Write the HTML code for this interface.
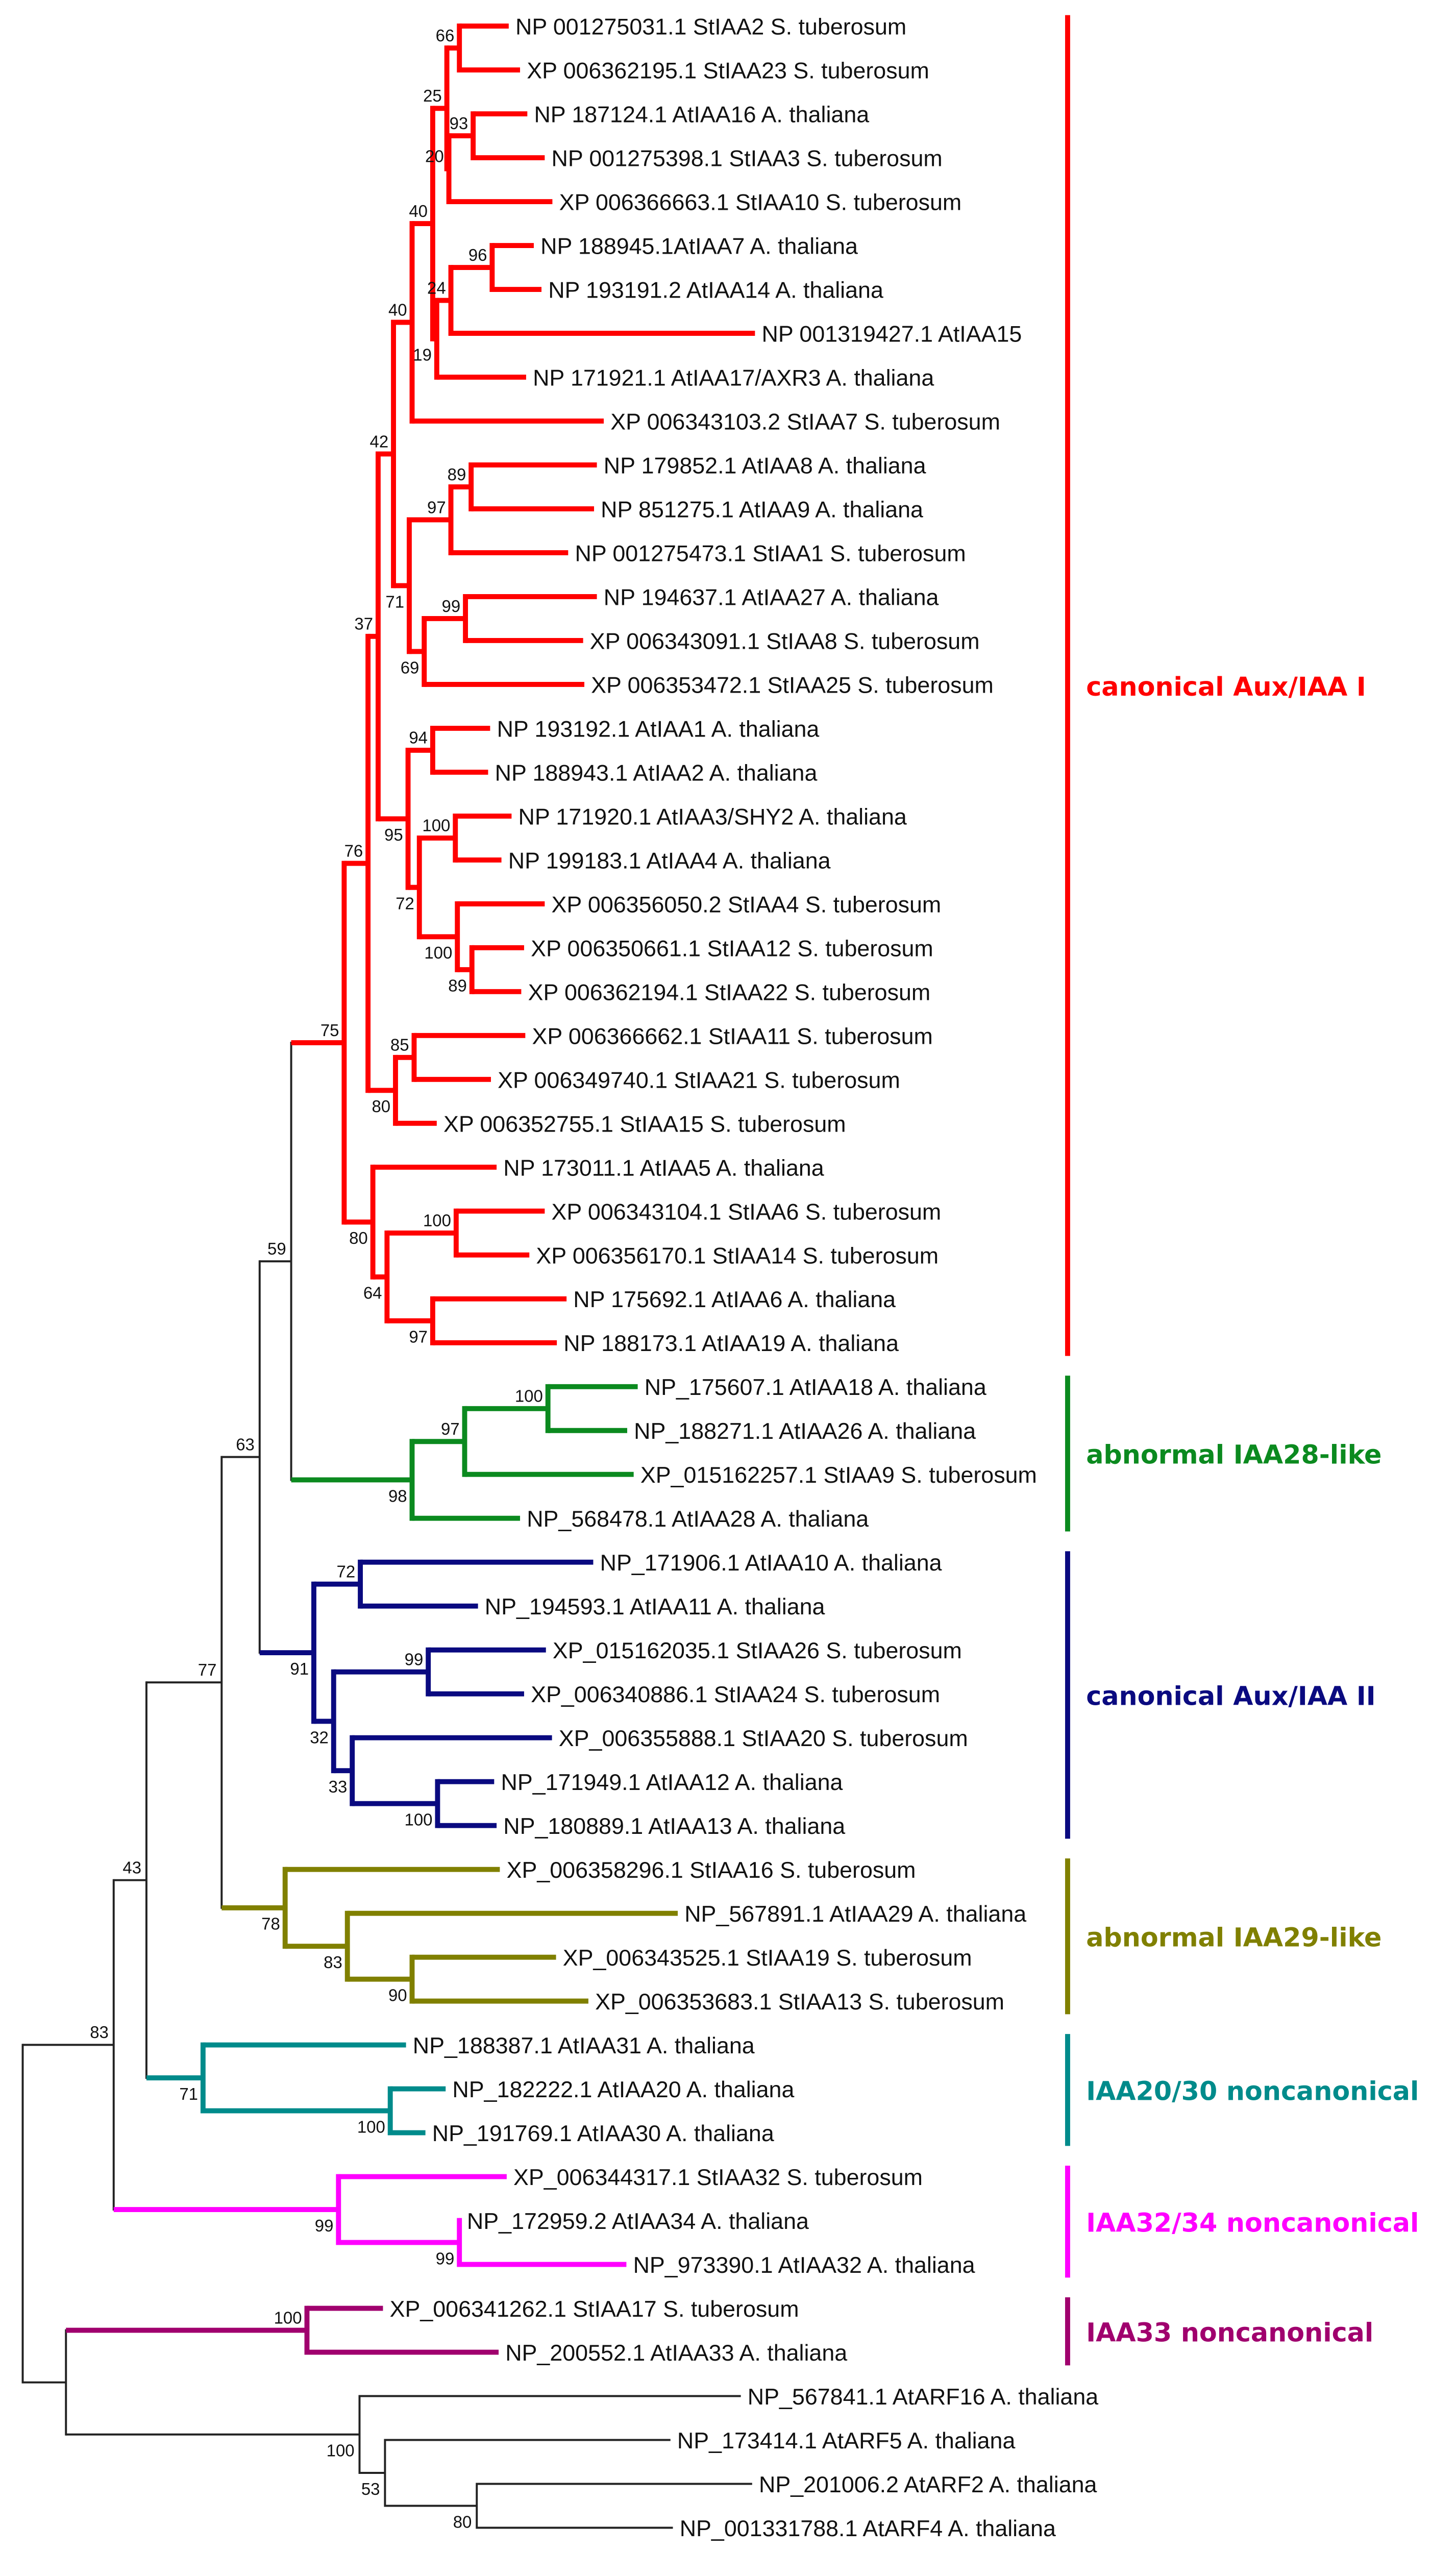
<!DOCTYPE html>
<html><head><meta charset="utf-8">
<style>
html,body{margin:0;padding:0;background:#fff;width:2853px;height:5166px;overflow:hidden;}
svg{display:block;overflow:hidden;}
.leaf{font-family:"Liberation Sans",Arial,sans-serif;font-size:13.6px;fill:#111;}
.boot{font-family:"Liberation Sans",Arial,sans-serif;font-size:10px;fill:#111;}
.grp{font-family:"DejaVu Sans",Verdana,sans-serif;font-size:15.4px;font-weight:bold;}
</style></head>
<body>
<svg id="tree" xmlns="http://www.w3.org/2000/svg" width="2853" height="5166" viewBox="0 0 866 1568" preserveAspectRatio="none">
<rect width="866" height="1568" fill="#fff"/>
<g id="branches"></g>
<g id="boots"></g>
<g id="leaves"></g>
<g id="groups"></g>
<g id="scalebar"></g>
</svg>
<script>
// ---- data ----
const leafNames = [
"NP 001275031.1 StIAA2 S. tuberosum","XP 006362195.1 StIAA23 S. tuberosum","NP 187124.1 AtIAA16 A. thaliana",
"NP 001275398.1 StIAA3 S. tuberosum","XP 006366663.1 StIAA10 S. tuberosum","NP 188945.1AtIAA7 A. thaliana",
"NP 193191.2 AtIAA14 A. thaliana","NP 001319427.1 AtIAA15","NP 171921.1 AtIAA17/AXR3 A. thaliana",
"XP 006343103.2 StIAA7 S. tuberosum","NP 179852.1 AtIAA8 A. thaliana","NP 851275.1 AtIAA9 A. thaliana",
"NP 001275473.1 StIAA1 S. tuberosum","NP 194637.1 AtIAA27 A. thaliana","XP 006343091.1 StIAA8 S. tuberosum",
"XP 006353472.1 StIAA25 S. tuberosum","NP 193192.1 AtIAA1 A. thaliana","NP 188943.1 AtIAA2 A. thaliana",
"NP 171920.1 AtIAA3/SHY2 A. thaliana","NP 199183.1 AtIAA4 A. thaliana","XP 006356050.2 StIAA4 S. tuberosum",
"XP 006350661.1 StIAA12 S. tuberosum","XP 006362194.1 StIAA22 S. tuberosum","XP 006366662.1 StIAA11 S. tuberosum",
"XP 006349740.1 StIAA21 S. tuberosum","XP 006352755.1 StIAA15 S. tuberosum","NP 173011.1 AtIAA5 A. thaliana",
"XP 006343104.1 StIAA6 S. tuberosum","XP 006356170.1 StIAA14 S. tuberosum","NP 175692.1 AtIAA6 A. thaliana",
"NP 188173.1 AtIAA19 A. thaliana",
"NP_175607.1 AtIAA18 A. thaliana","NP_188271.1 AtIAA26 A. thaliana","XP_015162257.1 StIAA9 S. tuberosum","NP_568478.1 AtIAA28 A. thaliana",
"NP_171906.1 AtIAA10 A. thaliana","NP_194593.1 AtIAA11 A. thaliana","XP_015162035.1 StIAA26 S. tuberosum","XP_006340886.1 StIAA24 S. tuberosum",
"XP_006355888.1 StIAA20 S. tuberosum","NP_171949.1 AtIAA12 A. thaliana","NP_180889.1 AtIAA13 A. thaliana",
"XP_006358296.1 StIAA16 S. tuberosum","NP_567891.1 AtIAA29 A. thaliana","XP_006343525.1 StIAA19 S. tuberosum","XP_006353683.1 StIAA13 S. tuberosum",
"NP_188387.1 AtIAA31 A. thaliana","NP_182222.1 AtIAA20 A. thaliana","NP_191769.1 AtIAA30 A. thaliana",
"XP_006344317.1 StIAA32 S. tuberosum","NP_172959.2 AtIAA34 A. thaliana","NP_973390.1 AtIAA32 A. thaliana",
"XP_006341262.1 StIAA17 S. tuberosum","NP_200552.1 AtIAA33 A. thaliana",
"NP_567841.1 AtARF16 A. thaliana","NP_173414.1 AtARF5 A. thaliana","NP_201006.2 AtARF2 A. thaliana","NP_001331788.1 AtARF4 A. thaliana"
];
const leafDepths = [
1.202,1.230,1.248,1.291,1.310,1.264,1.283,1.811,1.245,1.437,
1.420,1.413,1.349,1.420,1.386,1.389,1.156,1.151,1.209,1.184,
1.291,1.240,1.233,1.243,1.158,1.024,1.172,1.291,1.253,1.345,1.321,
1.521,1.495,1.511,1.230,
1.411,1.126,1.294,1.240,1.309,1.166,1.172,
1.180,1.620,1.319,1.399,
0.948,1.046,0.996,
1.197,1.082,1.493,
0.891,1.177,
1.776,1.602,1.804,1.608
];
const cladeNames = ["canonical Aux/IAA I","abnormal IAA28-like","canonical Aux/IAA II","abnormal IAA29-like","IAA20/30 noncanonical","IAA32/34 noncanonical","IAA33 noncanonical"];
const cladeColors = ["#ff0000","#0b8a1f","#0a0a80","#808000","#008b8b","#ff00ff","#a0006e"];
const cladeFirstLeaf = [0,31,35,42,46,49,52];
const cladeLastLeaf = [30,34,41,45,48,51,53];
const scaleValue = 0.2;
const scaleLabel = "0.2";

// ---- scales ----
const X0 = 13.5, PX_PER_UNIT = 240.5;
function xs(d){ return X0 + d*PX_PER_UNIT; }
const Y0 = 15.5, STEP = 26.1;
function ys(i){ return Y0 + STEP*i; }

const K="#222";
const R=cladeColors[0],G=cladeColors[1],B=cladeColors[2],O=cladeColors[3],T=cladeColors[4],M=cladeColors[5],P=cladeColors[6];
function N(d,boot,pos,col,ch){ return {d:d,boot:boot,pos:pos,col:col,ch:ch}; }
function L(){ return {leaf:true}; }

const tree = N(0,null,'',K,[
 N(0.225,83,'a',K,[
  N(0.306,43,'a',K,[
   N(0.492,77,'a',K,[
    N(0.586,63,'a',K,[
     N(0.664,59,'a',K,[
      N(0.795,75,'a',R,[
       N(0.854,76,'a',R,[
        N(0.879,37,'a',R,[
         N(0.917,42,'a',R,[
          N(0.963,40,'a',R,[
           N(1.014,40,'a',R,[
            N(1.049,25,'a',R,[ N(1.080,66,'a',R,[L(),L()]), N(1.054,20,'a',R,[ N(1.114,93,'a',R,[L(),L()]), L() ]) ]),
            N(1.024,19,'b',R,[ N(1.059,24,'a',R,[ N(1.161,96,'a',R,[L(),L()]), L() ]), L() ])
           ]),
           L()
          ]),
          N(0.956,71,'b',R,[
           N(1.059,97,'a',R,[ N(1.109,89,'a',R,[L(),L()]), L() ]),
           N(0.993,69,'b',R,[ N(1.095,99,'a',R,[L(),L()]), L() ])
          ])
         ]),
         N(0.953,95,'b',R,[
          N(1.014,94,'a',R,[L(),L()]),
          N(0.981,72,'b',R,[ N(1.070,100,'a',R,[L(),L()]), N(1.075,100,'b',R,[ L(), N(1.111,89,'b',R,[L(),L()]) ]) ])
         ])
        ]),
        N(0.922,80,'b',R,[ N(0.968,85,'a',R,[L(),L()]), L() ])
       ]),
       N(0.866,80,'b',R,[ L(), N(0.901,64,'b',R,[ N(1.072,100,'a',R,[L(),L()]), N(1.014,97,'b',R,[L(),L()]) ]) ])
      ]),
      N(0.963,98,'b',G,[ N(1.093,97,'a',G,[ N(1.299,100,'a',G,[L(),L()]), L() ]), L() ])
     ]),
     N(0.720,91,'b',B,[ N(0.835,72,'a',B,[L(),L()]), N(0.769,32,'b',B,[ N(1.003,99,'a',B,[L(),L()]), N(0.815,33,'b',B,[ L(), N(1.026,100,'b',B,[L(),L()]) ]) ]) ])
    ]),
    N(0.649,78,'b',O,[ L(), N(0.803,83,'b',O,[ L(), N(0.963,90,'b',O,[L(),L()]) ]) ])
   ]),
   N(0.446,71,'b',T,[ L(), N(0.909,100,'b',T,[L(),L()]) ])
  ]),
  N(0.781,99,'b',M,[ L(), N(1.080,99,'b',M,[L(),L()]) ])
 ]),
 N(0.107,null,'',K,[
  N(0.703,100,'a',P,[L(),L()]),
  N(0.833,100,'b',K,[ L(), N(0.896,53,'b',K,[ L(), N(1.123,80,'b',K,[L(),L()]) ]) ])
 ])
]);

// ---- render ----
const NS="http://www.w3.org/2000/svg";
const gBr=document.getElementById('branches'), gBo=document.getElementById('boots'), gLe=document.getElementById('leaves');
function mk(tag,attrs,parent){ const e=document.createElementNS(NS,tag); for(const k in attrs) e.setAttribute(k,attrs[k]); parent.appendChild(e); return e; }
function sw(c){ return c===K?1.2:3; }
let leafIdx=0;
function layout(n,col){
  if(n.leaf){ n.i=leafIdx++; n.y=ys(n.i); n.x=xs(leafDepths[n.i]); n.col=col; return; }
  n.ch.forEach(c=>layout(c,n.col));
  n.x=xs(n.d); n.y=(n.ch[0].y+n.ch[n.ch.length-1].y)/2;
}
layout(tree,K);
function draw(n,parentX){
  if(parentX!==null){
    const h=mk('line',{x1:parentX,y1:n.y,x2:n.x,y2:n.y,stroke:n.col,'stroke-width':sw(n.col)},gBr);
    
    
  }
  if(n.leaf){
    const t=mk('text',{x:n.x+4,y:n.y+5,class:'leaf'},gLe);
    t.textContent=leafNames[n.i];
    
    
    return;
  }
  const w=sw(n.col);
  const v=mk('line',{x1:n.x,y1:n.ch[0].y-w/2,x2:n.x,y2:n.ch[n.ch.length-1].y+w/2,stroke:n.col,'stroke-width':w},gBr);
  
  
  if(n.boot!==null){
    const by = n.pos==='a' ? n.y-4 : n.y+13;
    const t=mk('text',{x:n.x-3,y:by,class:'boot','text-anchor':'end'},gBo);
    t.textContent=String(n.boot);
    
    
  }
  n.ch.forEach(c=>draw(c,n.x));
}
draw(tree,null);

// clade bars
const gG=document.getElementById('groups');
const BAR_X=635;
for(let k=0;k<cladeNames.length;k++){
  const top=ys(cladeFirstLeaf[k])-STEP*0.25, bot=ys(cladeLastLeaf[k])+STEP*0.3;
  const b=mk('line',{x1:BAR_X,y1:top,x2:BAR_X,y2:bot,stroke:cladeColors[k],'stroke-width':3},gG);
  
  
  const t=mk('text',{x:BAR_X+11,y:(top+bot)/2+6,class:'grp',fill:cladeColors[k]},gG);
  t.textContent=cladeNames[k];
  
  
}

// scale bar
const gS=document.getElementById('scalebar');
const sx0=67.6, sx1=sx0+scaleValue*PX_PER_UNIT, sy=1542.6;
mk('line',{x1:sx0,y1:sy,x2:sx1,y2:sy,stroke:'#222','stroke-width':1.2},gS);
mk('line',{x1:sx0,y1:sy-4.5,x2:sx0,y2:sy+4.5,stroke:'#222','stroke-width':1.2},gS);
mk('line',{x1:sx1,y1:sy-4.5,x2:sx1,y2:sy+4.5,stroke:'#222','stroke-width':1.2},gS);
const st=mk('text',{x:(sx0+sx1)/2,y:sy+19,class:'boot','text-anchor':'middle'},gS);
st.textContent=scaleLabel;


</script>
</body></html>
